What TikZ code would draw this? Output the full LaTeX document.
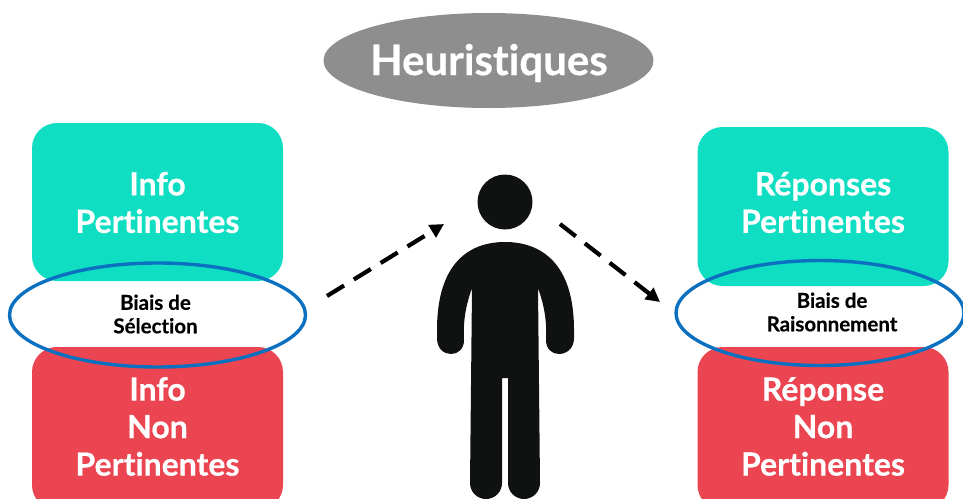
\documentclass[tikz,border=0pt]{standalone}
\usepackage{fontspec}
\setmainfont[Ligatures=NoCommon,BoldFeatures={FakeBold=0.5}]{Lato}
\usetikzlibrary{shapes.geometric,arrows.meta}
\definecolor{teal1}{HTML}{10DEC2}
\definecolor{red1}{HTML}{EB4551}
\definecolor{gray1}{HTML}{8E8E8E}
\definecolor{blue1}{HTML}{0B70BF}
\definecolor{ink}{HTML}{101211}
\tikzset{
  box/.style={rounded corners=25pt,minimum width=251pt,inner sep=0pt},
  boxtext/.style={align=center,text=white,font=\bfseries\fontsize{32}{37.5}\selectfont,inner sep=0pt},
  lens/.style={ellipse,draw=blue1,line width=3.4pt,inner sep=0pt},
  small/.style={align=center,font=\bfseries\fontsize{20.5}{23.5}\selectfont,text=black,inner sep=0pt},
  flow/.style={-{Triangle[length=14pt,width=14pt]},line width=4.2pt,dash pattern=on 20pt off 11.5pt},
}
\begin{document}
\begin{tikzpicture}[x=1pt,y=-1pt]
\useasboundingbox (0,0) rectangle (963,498);
\clip (0,0) rectangle (963,498);
\fill[white] (0,0) rectangle (963,498);
\node[ellipse,fill=gray1,minimum width=330pt,minimum height=95pt,inner sep=0pt] (title) at (488.5,60.5) {};
\node[text=white,inner sep=0pt,font=\bfseries\fontsize{42}{44}\selectfont] (titleT) at (489,63) {Heuristiques};
\node[box,fill=teal1,minimum height=158pt] (infoP) at (157.5,202) {};
\node[box,fill=red1,minimum height=163pt] (infoN) at (157.5,428.5) {};
\node[box,fill=teal1,minimum height=159pt] (repP) at (823,206.5) {};
\node[box,fill=red1,minimum height=163pt] (repN) at (823,428.5) {};
\node[boxtext] (infoPT) at (157.5,202.5) {Info\\Pertinentes};
\node[boxtext] (infoNT) at (157.5,426.5) {Info\\Non\\Pertinentes};
\node[boxtext] (repPT) at (823,202.5) {Réponses\\Pertinentes};
\node[boxtext] (repNT) at (823,426.5) {Réponse\\Non\\Pertinentes};
\node[lens,minimum width=296pt,minimum height=104pt] (sel) at (157.5,315) {};
\node[lens,minimum width=288pt,minimum height=105pt] (rai) at (820,313) {};
\node[small] (selT) at (155.5,314) {Biais de\\Sélection};
\node[small] (raiT) at (832,312) {Biais de\\Raisonnement};
\node[circle,fill=ink,minimum size=55pt,inner sep=0pt] (head) at (505,202) {};
\fill[ink] (505,242)
  .. controls (540,242) and (574,262) .. (574,330)
  -- (574,338) .. controls (574,349) and (566,354) .. (559,354)
  .. controls (552,354) and (546,349) .. (546,340)
  .. controls (547,320) and (544,305) .. (538,288)
  -- (540,483) arc[start angle=0,end angle=180,radius=16]
  -- (508,378) -- (502,378)
  -- (502,483) arc[start angle=0,end angle=180,radius=16]
  -- (472,288)
  .. controls (466,305) and (463,320) .. (464,340)
  .. controls (464,349) and (458,354) .. (451,354)
  .. controls (444,354) and (437,349) .. (437,338)
  -- (437,330) .. controls (437,262) and (470,242) .. (505,242) -- cycle;
\coordinate (a1) at (327,296);
\coordinate (a2) at (444,224);
\coordinate (b1) at (560,224);
\coordinate (b2) at (660,302);
\draw[flow] (a1) -- (a2);
\draw[flow] (b1) -- (b2);
\end{tikzpicture}
\end{document}
